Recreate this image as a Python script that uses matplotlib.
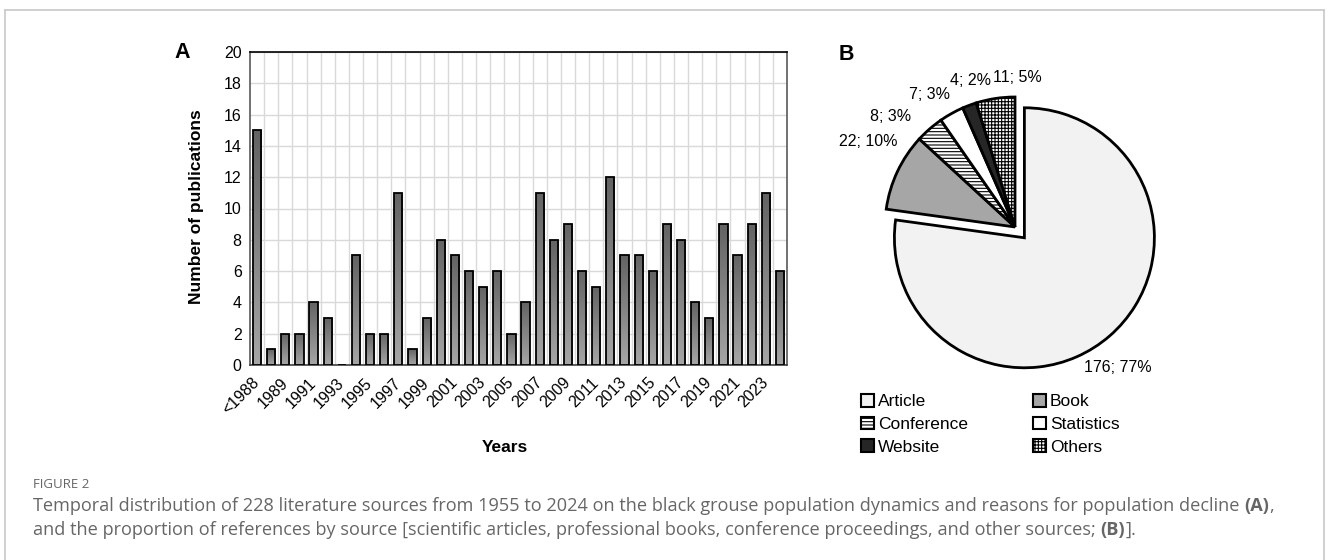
import numpy as np
import matplotlib
matplotlib.use("Agg")
import matplotlib.pyplot as plt
from matplotlib import font_manager
from matplotlib.patches import Patch
from matplotlib.lines import Line2D
from matplotlib.colors import LinearSegmentedColormap

# ---------------- data ----------------
years = ['<1988'] + [str(y) for y in range(1988, 2025)]
counts = [15, 1, 2, 2, 4, 3, 0, 7, 2, 2, 11, 1, 3, 8, 7, 6, 5, 6, 2, 4,
          11, 8, 9, 6, 5, 12, 7, 7, 6, 9, 8, 4, 3, 9, 7, 9, 11, 6]
y_ticks = list(range(0, 21, 2))

sources = ['Article', 'Book', 'Conference', 'Statistics', 'Website', 'Others']
source_counts = [176, 22, 8, 7, 4, 11]
source_pcts = [77, 10, 3, 3, 2, 5]

caption_title = "FIGURE 2"
caption_line1 = [("Temporal distribution of 228 literature sources from 1955 to 2024 on the black grouse "
                  "population dynamics and reasons for population decline ", "normal"), ("(A)", "bold"), (",", "normal")]
caption_line2 = [("and the proportion of references by source [scientific articles, professional books, "
                  "conference proceedings, and other sources; ", "normal"), ("(B)", "bold"), ("].", "normal")]

# ---------------- fonts ----------------
names = {f.name for f in font_manager.fontManager.ttflist}
FAM = 'Liberation Sans' if 'Liberation Sans' in names else 'DejaVu Sans'
CAPFAM = 'Open Sans' if 'Open Sans' in names else 'DejaVu Sans'
plt.rcParams['font.family'] = [FAM, 'DejaVu Sans']
plt.rcParams['hatch.linewidth'] = 0.8

W, H = 1328, 560
fig = plt.figure(figsize=(W / 100, H / 100), dpi=100)
fig.patch.set_facecolor('white')

def fx(px):
    return px / W

def fy(py):
    return 1 - py / H

# outer frame (left, top, right)
border = '#c8c8c8'
fig.add_artist(Line2D([fx(4.5), fx(4.5)], [0, fy(9.5)], color=border, lw=1.2))
fig.add_artist(Line2D([fx(4.5), fx(1323.5)], [fy(9.5), fy(9.5)], color=border, lw=1.2))
fig.add_artist(Line2D([fx(1323.5), fx(1323.5)], [0, fy(9.5)], color=border, lw=1.2))

# ---------------- panel A: bars ----------------
L, R, T, B = 250, 787, 52, 365
ax = fig.add_axes([fx(L), fy(B), (R - L) / W, (B - T) / H])
x = np.arange(len(years))
bw = 0.58
bars = ax.bar(x, counts, width=bw, color='#808080', edgecolor='none', zorder=3)
cmap = LinearSegmentedColormap.from_list('g', ['#a6a6a6', '#636363'])
grad = np.linspace(0, 1, 256).reshape(-1, 1)
for rect in bars:
    h = rect.get_height()
    if h <= 0:
        continue
    x0 = rect.get_x()
    im = ax.imshow(grad, extent=[x0, x0 + rect.get_width(), 0, h], origin='lower',
                   aspect='auto', cmap=cmap, zorder=3.2, interpolation='bilinear')
    im.set_clip_path(rect)
ax.bar(x, counts, width=bw, fill=False, edgecolor='black', linewidth=1.3, zorder=3.5)

ax.set_xlim(-0.5, len(years) - 0.5)
ax.set_ylim(0, 20)
ax.set_yticks(y_ticks)
ax.set_yticklabels([str(v) for v in y_ticks], fontsize=11.5)
ax.set_xticks(x[::2])
ax.set_xticklabels(years[::2], rotation=45, ha='right', va='center',
                   rotation_mode='anchor', fontsize=11.5)
ax.set_xticks(np.arange(0.5, len(years) - 0.5, 1), minor=True)
ax.tick_params(axis='both', which='both', length=0)
ax.tick_params(axis='x', pad=11)
ax.tick_params(axis='y', pad=6)
ax.grid(which='minor', axis='x', color='#d9d9d9', lw=1.0, zorder=0)
ax.grid(which='major', axis='y', color='#d9d9d9', lw=1.0, zorder=0)
ax.set_axisbelow(True)
for side in ['left', 'right', 'bottom']:
    ax.spines[side].set_color('#595959')
    ax.spines[side].set_linewidth(1.2)
ax.spines['top'].set_color('black')
ax.spines['top'].set_linewidth(1.2)
ax.spines['bottom'].set_color('#404040')

fig.text(fx(196), fy(207), 'Number of publications', rotation=90, ha='center', va='center',
         fontsize=12.5, fontweight='bold')
fig.text(fx(505), fy(447), 'Years', ha='center', va='center', fontsize=12.5, fontweight='bold')
fig.text(fx(182), fy(52), 'A', ha='center', va='center', fontsize=15.5, fontweight='bold')

# ---------------- panel B: pie ----------------
cx, cy, rad, half = 1015, 227, 130, 170
ax2 = fig.add_axes([fx(cx - half), fy(cy + half), 2 * half / W, 2 * half / H])
pie_colors = ['#f2f2f2', '#a6a6a6', 'white', 'white', '#262626', 'white']
pie_hatch = [None, None, '-----', None, None, '+++++']
wedges, _ = ax2.pie(source_counts, startangle=90, counterclock=False,
                    explode=[0.11, 0, 0, 0, 0, 0], colors=pie_colors,
                    wedgeprops=dict(edgecolor='black', linewidth=2.0))
for w, h in zip(wedges, pie_hatch):
    if h:
        w.set_hatch(h)
lim = half / rad
ax2.set_xlim(-lim, lim)
ax2.set_ylim(-lim, lim)
ax2.set_aspect('equal')
ax2.axis('off')

label_r = [1.34, 1.31, 1.28, 1.21, 1.18, 1.15]
label_da = [-5, -5, 7.5, 3.5, -3.5, -9.5]
for w, n, p, r, da in zip(wedges, source_counts, source_pcts, label_r, label_da):
    th = np.deg2rad((w.theta1 + w.theta2) / 2 + da)
    ax2.text(r * np.cos(th), r * np.sin(th), f"{n}; {p}%", ha='center', va='center',
             fontsize=11.5)

fig.text(fx(846), fy(55), 'B', ha='center', va='center', fontsize=15.5, fontweight='bold')

handles = [Patch(facecolor=c, edgecolor='black', hatch=h, linewidth=1.5)
           for c, h in zip(pie_colors, pie_hatch)]
order = [0, 2, 4, 1, 3, 5]
fig.legend([handles[i] for i in order], [sources[i] for i in order],
           loc='upper left', bbox_to_anchor=(fx(861), fy(394)), ncol=2, frameon=False,
           fontsize=12.5, handlelength=0.75, handleheight=0.75, handletextpad=0.25,
           columnspacing=3.7, labelspacing=0.42, borderaxespad=0, borderpad=0)

# ---------------- caption ----------------
cap_color = '#666666'
fig.text(fx(33), fy(484), caption_title, ha='left', va='center', fontsize=9.5,
         color=cap_color, family=CAPFAM)
fig.canvas.draw()
renderer = fig.canvas.get_renderer()

def draw_line(segments, ypx, size):
    xpos = 33
    for txt, wt in segments:
        t = fig.text(fx(xpos), fy(ypx), txt, ha='left', va='center', fontsize=size,
                     color=cap_color, family=CAPFAM, fontweight=wt)
        bb = t.get_window_extent(renderer=renderer)
        xpos += bb.width

draw_line(caption_line1, 506, 13.1)
draw_line(caption_line2, 530, 13.1)

fig.savefig('out.png', dpi=100, facecolor='white')
